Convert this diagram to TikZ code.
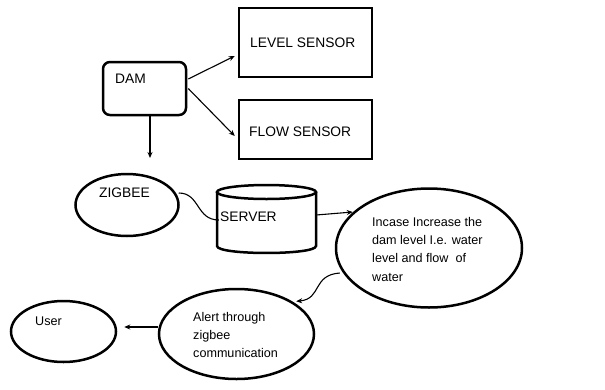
\documentclass[tikz,border=0pt]{standalone}
\usepackage{fontspec}
\setmainfont{Liberation Sans}
\usetikzlibrary{arrows.meta,calc}
\usetikzlibrary{shapes.geometric}
\begin{document}
\begin{tikzpicture}[x=1pt,y=-1pt,
  shapeline/.style={draw,line width=2.5pt,inner sep=0pt},
  sqbox/.style={shapeline,rectangle},
  rbox/.style={shapeline,rectangle,rounded corners=7pt},
  oval/.style={shapeline,ellipse},
  txt/.style={inner sep=0pt,font=\fontsize{12.6}{18.3}\selectfont,align=left},
  captxt/.style={inner sep=0pt,font=\fontsize{13.8}{16}\selectfont},
  conn/.style={line width=1.1pt},
  arr/.style={conn,-{Stealth[length=6pt,width=5pt]}}]
\useasboundingbox (0,0) rectangle (605,389);
% shapes
\node[rbox,minimum width=83pt,minimum height=53pt] (dam) at (144.5,88.5) {};
\node[sqbox,minimum width=133pt,minimum height=69pt] (level) at (305.5,42.5) {};
\node[sqbox,minimum width=133pt,minimum height=59pt] (flow) at (305.5,129.5) {};
\node[oval,minimum width=103pt,minimum height=62pt] (zigbee) at (127,205) {};
\node[inner sep=0pt,minimum width=99pt,minimum height=68pt] (server) at (266.5,219) {};
\draw[line width=2.5pt] (217,192) -- (217,246) .. controls (217,255.3) and (316,255.3) .. (316,246) -- (316,192);
\draw[line width=2.5pt] (266.5,192) ellipse [x radius=49.5, y radius=7];
\node[oval,minimum width=186pt,minimum height=119pt] (incase) at (429,248) {};
\node[oval,minimum width=155pt,minimum height=90pt] (alert) at (236.5,334) {};
\node[oval,minimum width=105pt,minimum height=61pt] (user) at (63.5,331.5) {};
% texts
\node[captxt,anchor=base west] (damt) at (115,83) {DAM};
\node[captxt,anchor=base west] (levelt) at (250,47) {LEVEL SENSOR};
\node[captxt,anchor=base west] (flowt) at (249,136) {FLOW SENSOR};
\node[captxt,anchor=base west] (zigbeet) at (99,197) {ZIGBEE};
\node[captxt,anchor=base west] (servert) at (220,221) {SERVER};
\node[txt,anchor=north west] (incaset) at (372,217) {Incase Increase the\\dam level I.e. water\\level and flow\ \ of\\water};
\node[txt,anchor=north west] (alertt) at (193,312) {Alert through\\zigbee\\communication};
\node[txt,anchor=base west] (usert) at (35,325) {User};
% connectors
\coordinate (zt) at (150,158);
\draw[arr] ($(dam.east)+(1,-9.5)$) -- ($(level.west)+(-3,13.5)$);
\draw[arr] ($(dam.east)+(1,0)$) -- ($(flow.west)+(-3,6.5)$);
\draw[arr] ($(dam.south)+(5.5,0)$) -- (zt);
\draw[conn] ($(zigbee.east)+(-1,-12)$) .. controls (200,193) and (196,220) .. ($(server.west)+(2,1)$);
\draw[arr] ($(server.east)+(0,-4)$) -- ($(incase.west)+(18,-36)$);
\draw[arr] ($(incase.west)+(5,25)$) .. controls (312,275) and (322,299) .. ($(alert.north east)+(4,0)$);
\draw[arr] ($(alert.west)+(0,-7)$) -- ($(user.east)+(7,-4.5)$);
\end{tikzpicture}
\end{document}
